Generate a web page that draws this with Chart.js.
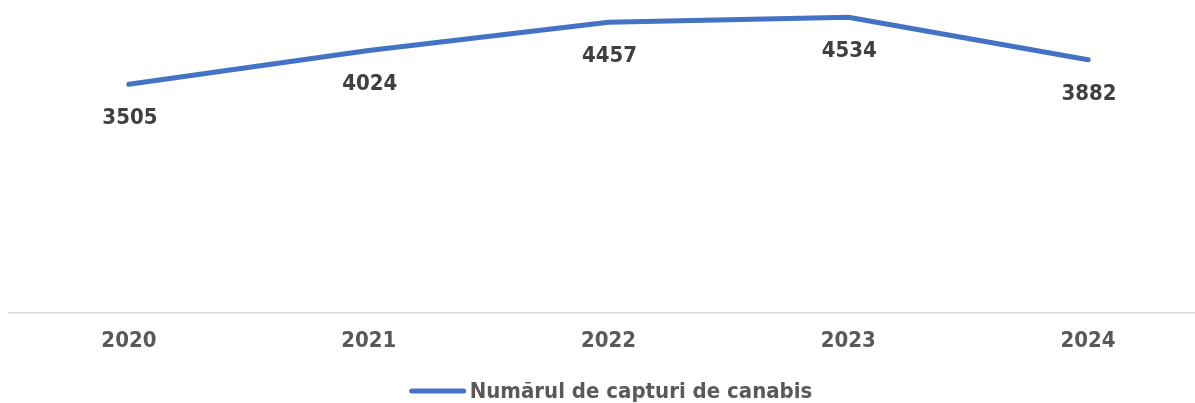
<!DOCTYPE html>
<html>
<head>
<meta charset="utf-8">
<script src="https://cdn.jsdelivr.net/npm/chart.js@4/dist/chart.umd.min.js"></script>
<style>
    html, body { margin: 0; padding: 0; background: #fff; overflow: hidden; }
    #wrap { width: 1210px; height: 403px; position: relative; }
</style>
</head>
<body>
<div id="wrap"><canvas id="seizuresChart"></canvas></div>
<script>
// Data
const years = ['2020', '2021', '2022', '2023', '2024'];
const seizures = [3505, 4024, 4457, 4534, 3882];
const seriesLabel = 'Numărul de capturi de canabis';

const FONT = '"DejaVu Sans Condensed", "DejaVu Sans", sans-serif';
const LINE_COLOR = '#4472C4';

// Value labels under each point
const valueLabels = {
    id: 'valueLabels',
    afterDatasetsDraw(chart) {
        const ctx = chart.ctx;
        const meta = chart.getDatasetMeta(0);
        const data = chart.data.datasets[0].data;
        ctx.save();
        ctx.font = 'bold 22px ' + FONT;
        ctx.fillStyle = '#404040';
        ctx.textAlign = 'center';
        ctx.textBaseline = 'middle';
        meta.data.forEach((pt, i) => {
            ctx.fillText(String(data[i]), pt.x + 1, pt.y + 34);
        });
        ctx.restore();
    }
};

// Legend drawn as a line sample followed by the series name
const lineLegend = {
    id: 'lineLegend',
    afterDraw(chart) {
        const ctx = chart.ctx;
        const ds = chart.data.datasets[0];
        ctx.save();
        ctx.font = 'bold 22px ' + FONT;
        const textW = ctx.measureText(ds.label).width;
        const sample = 56, gap = 4;
        const total = sample + gap + textW;
        const x0 = 611 - total / 2;
        const y = 391;
        ctx.strokeStyle = ds.borderColor;
        ctx.lineWidth = 5;
        ctx.lineCap = 'round';
        ctx.beginPath();
        ctx.moveTo(x0 + 2, y);
        ctx.lineTo(x0 + sample - 2, y);
        ctx.stroke();
        ctx.fillStyle = '#595959';
        ctx.textAlign = 'left';
        ctx.textBaseline = 'middle';
        ctx.fillText(ds.label, x0 + sample + gap, y + 1);
        ctx.restore();
    }
};

const ctx = document.getElementById('seizuresChart').getContext('2d');
new Chart(ctx, {
    type: 'line',
    data: {
        labels: years,
        datasets: [{
            label: seriesLabel,
            data: seizures,
            borderColor: LINE_COLOR,
            backgroundColor: LINE_COLOR,
            borderWidth: 5,
            borderCapStyle: 'round',
            borderJoinStyle: 'round',
            pointRadius: 0,
            tension: 0
        }]
    },
    options: {
        responsive: true,
        maintainAspectRatio: false,
        animation: false,
        layout: { padding: { left: 9, right: 2, top: 0, bottom: 34 } },
        scales: {
            x: {
                offset: true,
                grid: { color: 'transparent', drawTicks: false },
                border: { display: true, color: '#d9d9d9', width: 1.5 },
                ticks: {
                    padding: 15,
                    color: '#595959',
                    font: { family: FONT, size: 22, weight: 'bold' }
                }
            },
            y: {
                display: false,
                min: 0,
                max: 4800
            }
        },
        plugins: {
            legend: { display: false },
            tooltip: { enabled: false }
        }
    },
    plugins: [valueLabels, lineLegend]
});
</script>
</body>
</html>
